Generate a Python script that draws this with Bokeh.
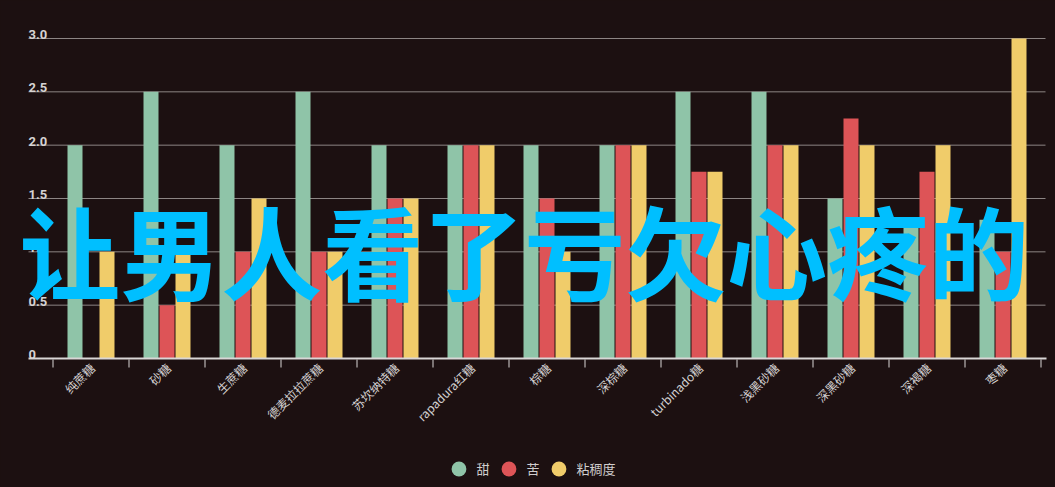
import math
import numpy as np
from bokeh.plotting import figure
from bokeh.models import (Range1d, Legend, LegendItem, ColumnDataSource, Label)
from bokeh.core.properties import value
from bokeh.transform import dodge
from bokeh.embed import file_html
from bokeh.resources import INLINE

categories = ["纯蔗糖", "砂糖", "生蔗糖", "德麦拉拉蔗糖", "苏坎纳特糖", "rapadura红糖", "棕糖",
              "深棕糖", "turbinado糖", "浅黑砂糖", "深黑砂糖", "深褐糖", "枣糖"]
sweet = [2.0, 2.5, 2.0, 2.5, 2.0, 2.0, 2.0, 2.0, 2.5, 2.5, 1.5, 1.25, 1.3]
bitter = [0.0, 0.5, 1.0, 1.0, 1.5, 2.0, 1.5, 2.0, 1.75, 2.0, 2.25, 1.75, 1.0]
thick = [1.0, 1.0, 1.5, 1.0, 1.5, 2.0, 1.0, 2.0, 1.75, 2.0, 2.0, 2.0, 3.0]
series_names = ["甜", "苦", "粘稠度"]
series_colors = ["#8fc4a8", "#dd5457", "#f0cc6a"]
y_ticks = [0, 0.5, 1.0, 1.5, 2.0, 2.5, 3.0]
y_tick_labels = ["0", "0.5", "1.0", "1.5", "2.0", "2.5", "3.0"]
watermark = "让男人看了亏欠心疼的"

BG = "#1c1011"
AXIS_C = "#d9d6d6"
n = len(categories)
centers = [i + 0.5 for i in range(n)]
bounds = [float(i) for i in range(n + 1)]

# layout constants (pixels)
W, H = 1055, 487
PXX = 76.0            # px per category
PXY = 320 / 3.0       # px per value unit
CAT0_PX = 52.5        # left edge of first category
ZERO_PX = 358.0       # y pixel of value 0
GX0 = (28 - CAT0_PX) / PXX      # grid left (data units)
GX1 = (1045 - CAT0_PX) / PXX    # grid right (data units)
TICK_LEN = 8 / PXY

p = figure(frame_width=W, frame_height=H, output_backend="svg", toolbar_location=None,
           x_range=Range1d(-CAT0_PX / PXX, (W - CAT0_PX) / PXX),
           y_range=Range1d(-(H - ZERO_PX) / PXY, ZERO_PX / PXY),
           x_axis_location=None, y_axis_location=None,
           min_border_left=0, min_border_right=0, min_border_top=0, min_border_bottom=0)
p.background_fill_color = BG
p.border_fill_color = BG
p.outline_line_color = None
p.xgrid.visible = False
p.ygrid.visible = False

# horizontal value grid
gt = y_ticks[1:]
p.segment(x0=[GX0] * len(gt), x1=[GX1] * len(gt), y0=gt, y1=gt,
          line_color="#8c8584", line_width=1)

src = ColumnDataSource(dict(x=centers, sweet=sweet, bitter=bitter, thick=thick))
bw = 15 / PXX
step = 16 / PXX
for k, (col, color) in enumerate(zip(["sweet", "bitter", "thick"], series_colors)):
    p.vbar(x=dodge("x", (k - 1) * step, range=p.x_range), top=col, width=bw, bottom=0,
           source=src, fill_color=color, line_color=None)

# category axis: baseline, boundary ticks, rotated labels
p.segment(x0=[GX0], x1=[GX1 + 1 / PXX], y0=[0], y1=[0], line_color=AXIS_C, line_width=2)
p.segment(x0=bounds, x1=bounds, y0=[-1 / PXY] * len(bounds), y1=[-1 / PXY - TICK_LEN] * len(bounds),
          line_color=AXIS_C, line_width=1)
xsrc = ColumnDataSource(dict(x=centers, y=[0] * n, t=categories))
p.text(x="x", y="y", text="t", source=xsrc, angle=math.pi / 4,
       text_align="right", text_baseline="middle", x_offset=1, y_offset=7,
       text_color="#d4d1d1", text_font=value("Noto Sans CJK SC"), text_font_size="12px")

# y tick labels drawn inside the plot, above grid lines
ysrc = ColumnDataSource(dict(x=[GX0] * len(y_ticks), y=y_ticks, t=y_tick_labels))
p.text(x="x", y="y", text="t", source=ysrc, text_color="#d6d3d3",
       text_font=value("Roboto"), text_font_style="bold", text_font_size="13px",
       text_align="left", text_baseline="alphabetic", y_offset=-4)

# legend at the bottom (renderers hold one off-screen NaN point so the legend has a colour)
renderers = []
for name, color in zip(series_names, series_colors):
    r = p.scatter(x=[float("nan")], y=[float("nan")], marker="circle", size=15,
                  fill_color=color, line_color=None)
    renderers.append(r)
legend = Legend(items=[LegendItem(label=nm, renderers=[r]) for nm, r in zip(series_names, renderers)],
                orientation="horizontal", location="bottom_center",
                background_fill_alpha=0, border_line_color=None,
                label_text_color="#d0cdcd", label_text_font="Noto Sans CJK SC",
                label_text_font_size="13px", glyph_width=37, glyph_height=37,
                label_width=0, label_standoff=0, spacing=0, padding=0, margin=0)
p.add_layout(legend, "center")

# overlay text
lab = Label(x=6.20, y=1.03, text=watermark, text_color="#00bfff",
            text_font="Noto Sans CJK SC", text_font_style="bold", text_font_size="101px",
            text_align="center", text_baseline="middle")
p.add_layout(lab)

html = file_html(p, INLINE)
html = html.replace("<head>", "<head><style>html,body{margin:0;padding:0;background:%s;}</style>" % BG, 1)
open("out.html", "w").write(html)
